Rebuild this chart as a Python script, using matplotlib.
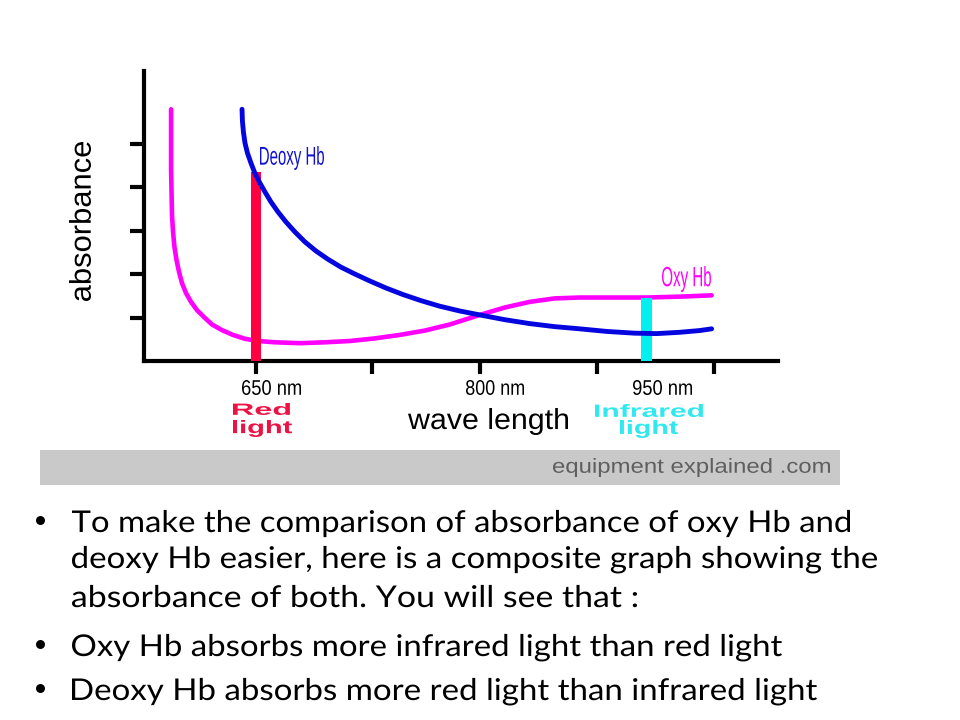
import matplotlib
matplotlib.use("Agg")
import matplotlib.pyplot as plt
from matplotlib.textpath import TextPath
from matplotlib.font_manager import FontProperties
from matplotlib.patches import PathPatch, Rectangle
from matplotlib.transforms import Affine2D

# absorbance curves (wavelength in nm, absorbance in arbitrary units)
oxy_nm = [584.8, 584.8, 584.8, 585.2, 585.5, 586.3, 587.4, 589.0, 590.9, 593.2, 596.3, 600.1,
          604.7, 610.1, 616.2, 623.9, 632.3, 641.6, 651.5, 664.6, 683.8, 703.0, 722.1, 741.3,
          760.5, 779.7, 798.9, 821.9, 841.1, 860.3, 879.5, 898.7, 921.7, 950.1, 975.4, 1000.0]
oxy_abs = [5.79, 5.08, 4.39, 3.82, 3.36, 2.97, 2.62, 2.32, 2.05, 1.79, 1.56, 1.36,
           1.17, 1.01, 0.84, 0.71, 0.60, 0.51, 0.46, 0.43, 0.41, 0.43, 0.46, 0.52,
           0.60, 0.70, 0.84, 1.06, 1.23, 1.36, 1.44, 1.46, 1.46, 1.46, 1.48, 1.51]

deoxy_nm = [639.3, 639.6, 640.4, 641.6, 643.5, 646.2, 649.2, 653.1, 656.9, 661.5, 666.9, 673.0,
            679.9, 687.6, 696.1, 705.3, 715.2, 726.0, 737.5, 749.8, 762.8, 776.6, 791.2, 806.6,
            821.9, 841.1, 860.3, 879.5, 898.7, 919.4, 940.9, 957.8, 975.4, 990.8, 1000.0]
deoxy_abs = [5.79, 5.52, 5.26, 5.01, 4.78, 4.55, 4.32, 4.09, 3.89, 3.66, 3.43, 3.20,
             2.97, 2.74, 2.53, 2.34, 2.16, 2.00, 1.84, 1.68, 1.53, 1.39, 1.26, 1.15,
             1.06, 0.95, 0.86, 0.79, 0.74, 0.68, 0.64, 0.63, 0.66, 0.70, 0.74]

# the two light sources
source_nm = [650, 950]
source_abs = [4.34, 1.45]
source_colors = ['#ff0040', '#00f0f0']

x_ticks = [650, 739, 822, 912, 1002]
y_ticks = [1, 2, 3, 4, 5]

bullets = [
    ("To make the comparison of absorbance of oxy Hb and", True),
    ("deoxy Hb easier, here is a composite graph showing the", False),
    ("absorbance of both. You will see that :", False),
    ("Oxy Hb absorbs more infrared light than red light", True),
    ("Deoxy Hb absorbs more red light than infrared light", True),
]
bullet_right = [850, 877, 637, 782, 817]
bullet_base = [532, 568, 607, 656, 700]


def fit_text(ax, s, box, color, family='Liberation Sans', weight='normal', rotate=False):
    """Draw s so that its ink fills box = (x0, x1, ytop, ybottom) in pixels."""
    x0, x1, y0, y1 = box
    path = TextPath((0, 0), s, size=50, prop=FontProperties(family=family, weight=weight))
    if rotate:
        path = Affine2D().rotate_deg(90).transform_path(path)
    ext = path.get_extents()
    tr = (Affine2D().translate(-ext.x0, -ext.y0)
          .scale((x1 - x0) / ext.width, -(y1 - y0) / ext.height)
          .translate(x0, y1))
    ax.add_patch(PathPatch(tr.transform_path(path), fc=color, ec='none', lw=0))


def line_text(ax, s, x0, x1, base, cap, color, family='Lato'):
    """Draw one line of body text: left/right ink edges, baseline and cap height in pixels."""
    prop = FontProperties(family=family)
    path = TextPath((0, 0), s, size=50, prop=prop)
    cap_h = TextPath((0, 0), 'H', size=50, prop=prop).get_extents().height
    ext = path.get_extents()
    k = cap / cap_h
    tr = (Affine2D().translate(-ext.x0, 0)
          .scale((x1 - x0) / ext.width, -k)
          .translate(x0, base))
    ax.add_patch(PathPatch(tr.transform_path(path), fc=color, ec='none', lw=0))


fig = plt.figure(figsize=(9.6, 7.2), dpi=100)

# --- chart ---
ax = fig.add_axes([144 / 960, 1 - 361 / 720, (778 - 144) / 960, (361 - 71) / 720])
ax.plot(oxy_nm, oxy_abs, color='#ff00ff', lw=3.3, solid_capstyle='round',
        solid_joinstyle='round', zorder=2)
ax.bar(source_nm, source_abs, width=8, color=source_colors, zorder=3)
ax.plot(deoxy_nm, deoxy_abs, color='#0505e0', lw=3.5, solid_capstyle='round',
        solid_joinstyle='round', zorder=4)

ax.set_xlim(564, 1051)
ax.set_ylim(0, 6.67)
ax.set_xticks(x_ticks)
ax.set_yticks(y_ticks)
ax.set_xticklabels([])
ax.set_yticklabels([])
ax.tick_params(axis='x', length=9, width=3, direction='out')
ax.tick_params(axis='y', length=10, width=3, direction='out')
for side in ['top', 'right']:
    ax.spines[side].set_visible(False)
for side in ['left', 'bottom']:
    ax.spines[side].set_linewidth(3)

# --- overlay in pixel coordinates for labels, banner and bullet text ---
ov = fig.add_axes([0, 0, 1, 1])
ov.set_xlim(0, 960)
ov.set_ylim(720, 0)
ov.axis('off')

fit_text(ov, 'absorbance', (69, 91, 142, 301), 'black', rotate=True)
fit_text(ov, 'Deoxy Hb', (260, 324, 146, 170), '#1010d0')
fit_text(ov, 'Oxy Hb', (662, 711, 266, 292), '#ff00ff')
fit_text(ov, '650 nm', (242, 301, 380, 395), 'black')
fit_text(ov, '800 nm', (466, 524, 380, 395), 'black')
fit_text(ov, '950 nm', (633, 692, 380, 395), 'black')
fit_text(ov, 'Red', (233, 290, 403, 415), '#ee1144', weight='bold')
fit_text(ov, 'light', (233, 292, 420, 437), '#ee1144', weight='bold')
fit_text(ov, 'wave length', (408, 568, 408, 435), 'black')
fit_text(ov, 'Infrared', (595, 703, 404, 417), '#30e8f0', weight='bold')
fit_text(ov, 'light', (620, 678, 420, 438), '#30e8f0', weight='bold')

ov.add_patch(Rectangle((40, 450), 800, 35, fc='#c9c9c9', ec='none'))
fit_text(ov, 'equipment explained .com', (553, 830, 458, 477), '#5f5f5f')

for (txt, has_dot), x1, base in zip(bullets, bullet_right, bullet_base):
    if has_dot:
        fit_text(ov, '\u2022', (36, 45, base - 16, base - 7), 'black', family='DejaVu Sans')
    line_text(ov, txt, 72, x1, base, 21.5, 'black')

fig.savefig('out.png', dpi=100)
